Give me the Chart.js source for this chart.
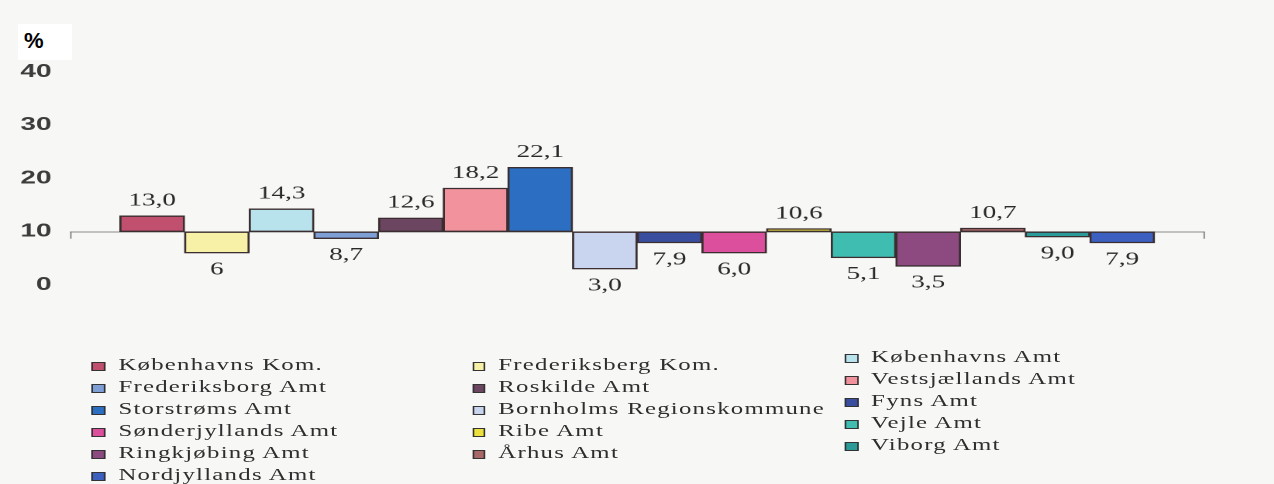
<!DOCTYPE html>
<html>
<head>
<meta charset="utf-8">
<script src="https://cdn.jsdelivr.net/npm/chart.js@4"></script>
<style>
  html, body { margin: 0; padding: 0; }
  body { width: 1274px; height: 484px; background: #f7f7f6; position: relative; overflow: hidden; }
  /* the scanned original is stretched sideways, so the whole drawing is too */
  #stage { position: absolute; left: 0; top: 0; width: 822px; height: 484px; transform: scaleX(1.55); transform-origin: 0 0; }
  #chartBox { position: absolute; left: 0; top: 0; width: 822px; height: 320px; }
  #pct { position: absolute; left: 18px; top: 24px; width: 54px; height: 36px; background: #fff;
         font: bold 22px Arial, "Liberation Sans", sans-serif; color: #000; padding: 4px 0 0 6px; box-sizing: border-box; }
  .legend-col { position: absolute; font-family: "Liberation Serif", "Times New Roman", serif; font-size: 16px;
                letter-spacing: 0.8px; color: #2e2e2e; }
  .legend-item { height: 22px; line-height: 22px; white-space: nowrap; }
  .legend-item i { display: inline-block; width: 6.5px; height: 7px; border: 1.5px solid #333; margin-right: 8.5px; vertical-align: -1px; }
</style>
</head>
<body>
<div id="stage">
  <div id="chartBox"><canvas id="regionChart"></canvas></div>
  <div id="legend"></div>
</div>
<div id="pct">%</div>

<script>
// ==========================================================================
// DATA
// ==========================================================================
const regions = [
    'Københavns Kom.', 'Frederiksberg Kom.', 'Københavns Amt',
    'Frederiksborg Amt', 'Roskilde Amt', 'Vestsjællands Amt',
    'Storstrøms Amt', 'Bornholms Regionskommune', 'Fyns Amt',
    'Sønderjyllands Amt', 'Ribe Amt', 'Vejle Amt',
    'Ringkjøbing Amt', 'Århus Amt', 'Viborg Amt',
    'Nordjyllands Amt'
];
const values = [13.0, 6, 14.3, 8.7, 12.6, 18.2, 22.1, 3.0, 7.9, 6.0, 10.6, 5.1, 3.5, 10.7, 9.0, 7.9];
const valueLabels = ['13,0', '6', '14,3', '8,7', '12,6', '18,2', '22,1', '3,0', '7,9', '6,0', '10,6', '5,1', '3,5', '10,7', '9,0', '7,9'];
const baseline = 10;
const yTicks = [0, 10, 20, 30, 40];
const colors = [
    '#c0506e', '#f6f1a6', '#b9e3ec',
    '#7d9fd6', '#6c4560', '#f1929c',
    '#2c6fc2', '#c9d4ee', '#3a4ea0',
    '#dc4f9d', '#ece03e', '#3fbdb1',
    '#8d4a80', '#a86868', '#2a9b98',
    '#3b60c0'
];

// ==========================================================================
// VALUE LABELS + BASELINE END TICKS
// ==========================================================================
const valueLabelPlugin = {
    id: 'valueLabels',
    afterDatasetsDraw(chart) {
        const ctx = chart.ctx;
        const meta = chart.getDatasetMeta(0);
        const area = chart.chartArea;
        const yBase = chart.scales.y.getPixelForValue(baseline);

        ctx.save();
        // little end ticks on the baseline
        ctx.strokeStyle = '#8a8a8a';
        ctx.lineWidth = 1;
        ctx.beginPath();
        ctx.moveTo(area.left + 0.5, yBase);
        ctx.lineTo(area.left + 0.5, yBase + 7);
        ctx.moveTo(area.right - 0.5, yBase);
        ctx.lineTo(area.right - 0.5, yBase + 7);
        ctx.stroke();

        ctx.font = '17.5px "Liberation Serif", "Times New Roman", serif';
        ctx.fillStyle = '#2a2a2a';
        ctx.textAlign = 'center';
        meta.data.forEach((bar, i) => {
            // floating bars: y / base are the two ends, whichever way round
            const top = Math.min(bar.y, bar.base);
            const bottom = Math.max(bar.y, bar.base);
            if (values[i] >= baseline) {
                ctx.textBaseline = 'bottom';
                ctx.fillText(valueLabels[i], bar.x, top - 6);
            } else {
                ctx.textBaseline = 'top';
                ctx.fillText(valueLabels[i], bar.x, bottom + 8);
            }
        });
        ctx.restore();
    }
};

// ==========================================================================
// CHART
// ==========================================================================
const ctx = document.getElementById('regionChart').getContext('2d');

new Chart(ctx, {
    type: 'bar',
    data: {
        labels: regions,
        datasets: [{
            data: values.map((v, i) => ({ x: i, y: [baseline, v] })),
            backgroundColor: colors,
            borderColor: '#3a2e30',
            borderWidth: 1.4,
            borderSkipped: false,
            barPercentage: 1,
            categoryPercentage: 1
        }]
    },
    options: {
        responsive: true,
        maintainAspectRatio: false,
        animation: false,
        devicePixelRatio: 2,
        layout: { padding: { left: 0, top: 72, right: 44.6, bottom: 35 } },
        plugins: { legend: { display: false }, tooltip: { enabled: false } },
        scales: {
            x: { type: 'linear', min: -1.27, max: 16.28, offset: false, display: false },
            y: {
                min: 0, max: 40,
                afterBuildTicks: (s) => { s.ticks = yTicks.map(v => ({ value: v })); },
                afterFit: (s) => { s.width = 45.2; },
                border: { display: false },
                grid: {
                    drawTicks: false,
                    color: (c) => c.tick && c.tick.value === baseline ? '#8a8a8a' : 'rgba(0,0,0,0)',
                    lineWidth: 1
                },
                ticks: {
                    padding: 12,
                    color: '#3c3c3c',
                    font: { size: 18, weight: 'bold', family: '"Liberation Sans", Arial, sans-serif' }
                }
            }
        }
    },
    plugins: [valueLabelPlugin]
});

// ==========================================================================
// LEGEND (three columns, row-major order) - positions in unstretched px
// ==========================================================================
const legendCols = [
    { left: 59.4, top: 354 },
    { left: 304.5, top: 354 },
    { left: 545, top: 346 }
];
const legendEl = document.getElementById('legend');
legendCols.forEach((pos, c) => {
    const col = document.createElement('div');
    col.className = 'legend-col';
    col.style.left = pos.left + 'px';
    col.style.top = pos.top + 'px';
    regions.forEach((name, i) => {
        if (i % 3 !== c) return;
        col.innerHTML += `<div class="legend-item"><i style="background:${colors[i]}"></i>${name}</div>`;
    });
    legendEl.appendChild(col);
});
</script>
</body>
</html>
